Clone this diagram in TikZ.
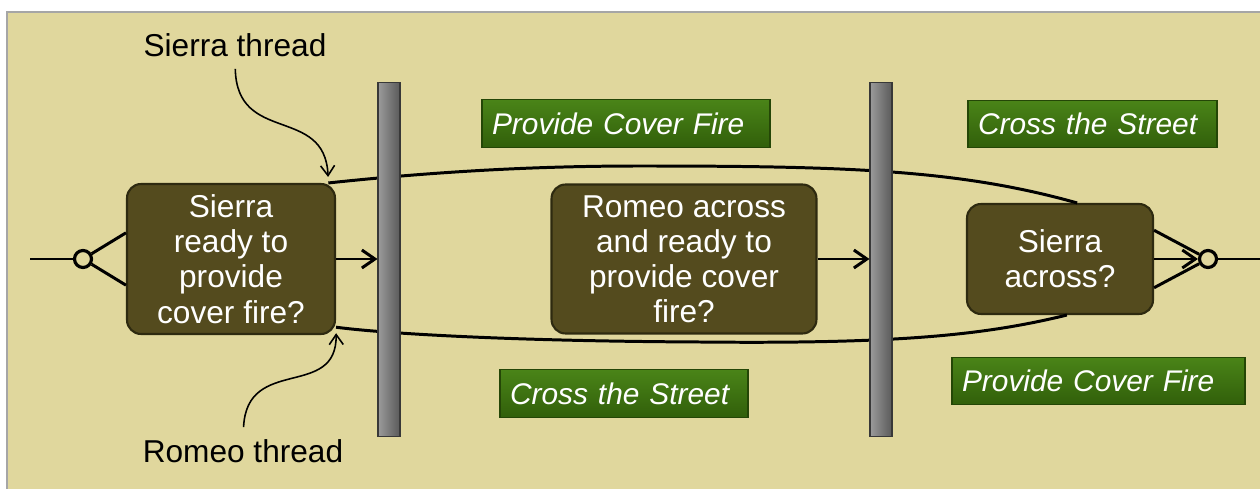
\documentclass[tikz,border=0pt]{standalone}
\usepackage{fontspec}
\setmainfont{Liberation Sans}
\usetikzlibrary{arrows.meta}

\definecolor{paper}{RGB}{224,215,157}
\definecolor{olive}{RGB}{84,75,30}
\definecolor{oliveline}{RGB}{46,42,16}
\definecolor{leaf}{RGB}{58,112,12}
\definecolor{leaftop}{RGB}{74,132,24}
\definecolor{leafline}{RGB}{36,70,6}
\definecolor{steel}{RGB}{112,112,112}

\begin{document}
\begin{tikzpicture}[x=0.02cm,y=-0.02cm]
\useasboundingbox (0,0) rectangle (1260,489);
\fill[paper] (7,12) rectangle (1260,489);
\draw[gray!70,line width=0.8pt] (7,489) -- (7,12) -- (1260,12);

% decision boxes
\begin{scope}[every node/.style={rectangle,rounded corners=0.28cm,fill=olive,draw=oliveline,
              line width=1.2pt,text=white,align=center,inner sep=0pt,
              font=\fontsize{18}{20}\selectfont}]
    \node[minimum width=4.16cm,minimum height=3cm] (sready) at (231,259) {Sierra\\ready to\\provide\\cover fire?};
    \node[minimum width=5.3cm,minimum height=2.98cm] (rready) at (684,259) {Romeo across\\and ready to\\provide cover\\fire?};
    \node[minimum width=3.72cm,minimum height=2.2cm] (sacross) at (1060,259) {Sierra\\across?};
\end{scope}

% the two threads
\begin{scope}[line width=1.7pt]
    \draw (sready.38) .. controls (450,170) and (550,166) .. (640,166)
          .. controls (850,166) and (960,170) .. (sacross.73);
    \draw (sready.-33) .. controls (380,333) and (500,341) .. (700,342)
          .. controls (900,344) and (985,335) .. (sacross.-83);
\end{scope}

% sync bars
\begin{scope}[every node/.style={rectangle,minimum width=0.44cm,minimum height=7.1cm,inner sep=0pt,
              left color=steel!70!white,right color=steel!80!black,draw=steel!50!black,line width=0.6pt}]
    \node (bar1) at (389,259.5) {};
    \node (bar2) at (881,259.5) {};
\end{scope}

% task labels
\begin{scope}[every node/.style={rectangle,top color=leaftop,bottom color=leaf!85!black,draw=leafline,
              line width=0.8pt,text=white,minimum height=0.95cm,inner xsep=0.2cm,inner ysep=0pt,
              align=left,font=\itshape\fontsize{17}{20}\selectfont}]
    \node[text width=5.36cm] (cover1) at (626,123.5) {Provide Cover Fire};
    \node[text width=4.58cm] (cross2) at (1092.5,124) {Cross the Street};
    \node[text width=4.56cm] (cross1) at (624,393.5) {Cross the Street};
    \node[text width=5.46cm] (cover2) at (1098.5,381) {Provide Cover Fire};
\end{scope}

% fork and join
\begin{scope}[every node/.style={circle,draw,line width=1.8pt,fill=paper,minimum size=0.34cm,inner sep=0pt}]
    \node (fork) at (83,259) {};
    \node (join) at (1208,259) {};
\end{scope}
\coordinate (start) at (30,259);
\coordinate (finish) at (1260,259);

\begin{scope}[>={Straight Barb[length=0.26cm,width=0.36cm]},
              every edge/.style={draw,line width=1.7pt}]
    \path (start) edge (fork);
    \path (fork) edge (sready.166);
    \path (fork) edge (sready.194);
    \path [->] (sready.east) edge (sready.east -| bar1.west);
    \path [->] (rready.east) edge (rready.east -| bar2.west);
    \path (sacross.17) edge (join);
    \path (sacross.-17) edge (join);
    \path [->] (sacross.east) edge (join.west);
    \path (join) edge (finish);
\end{scope}

% thread names
\node[inner sep=0pt,font=\fontsize{18}{20}\selectfont] (slabel) at (235,45) {Sierra thread};
\node[inner sep=0pt,font=\fontsize{18}{20}\selectfont] (rlabel) at (243,451) {Romeo thread};
\begin{scope}[>={Straight Barb[length=0.2cm,width=0.28cm]},line width=0.9pt]
    \draw[->,shorten <=0.24cm,shorten >=0.12cm] (slabel.south) .. controls (237,145) and (325,105) .. (sready.38);
    \draw[->,shorten <=0.24cm,shorten >=0.12cm] (rlabel.north) .. controls (247,355) and (337,400) .. (sready.-33);
\end{scope}
\end{tikzpicture}
\end{document}
